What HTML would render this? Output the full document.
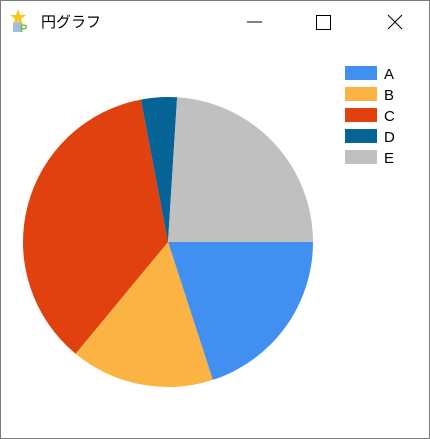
<!DOCTYPE html>
<html><head><meta charset="utf-8"><style>
body{margin:0;width:430px;height:439px;overflow:hidden;background:#fff;font-family:"Liberation Sans","Noto Sans CJK JP",sans-serif}
#win{position:absolute;left:0;top:0;width:428px;height:437px;border:1px solid #7a7a7a;background:#fff}
</style></head><body>
<div id="win">
<svg width="430" height="439" style="position:absolute;left:-1px;top:-1px">
 <g>
  <rect x="13" y="22" width="9" height="10" fill="#9dbfe6"/>
  <polygon points="18,9 20,15 26,15 21,19 23,25 18,21 13,25 15,19 10,15 16,15" fill="#f7c51b"/>
  <text x="20" y="32" font-size="11" font-weight="bold" fill="#6cbf3a">P</text>
 </g>
 <text x="41" y="27" font-size="15" fill="#000">円グラフ</text>
 <line x1="247" y1="22" x2="262" y2="22" stroke="#000"/>
 <rect x="316.5" y="15.5" width="14" height="14" fill="none" stroke="#000"/>
 <g stroke="#000"><line x1="388" y1="15" x2="402" y2="29"/><line x1="402" y1="15" x2="388" y2="29"/></g>
 <g id="pie"></g>
 <g id="legend"></g>
</svg>
</div>
<script>
const categories=["A","B","C","D","E"];
const values=[20,16,36,4,24];
const colors=["#418ff0","#fbb443","#e1410e","#056395","#c0c0c0"];
const cx=168,cy=242,r=145;
const pie=document.getElementById('pie'),leg=document.getElementById('legend');
const NS="http://www.w3.org/2000/svg";
const total=values.reduce((a,b)=>a+b,0);
let a0=0;
values.forEach((v,i)=>{
 const a1=a0+v/total*2*Math.PI;
 const p=document.createElementNS(NS,'path');
 const x0=cx+r*Math.cos(a0),y0=cy+r*Math.sin(a0),x1=cx+r*Math.cos(a1),y1=cy+r*Math.sin(a1);
 p.setAttribute('d',`M${cx},${cy}L${x0},${y0}A${r},${r} 0 ${a1-a0>Math.PI?1:0} 1 ${x1},${y1}Z`);
 p.setAttribute('fill',colors[i]);
 
 
 pie.appendChild(p);
 a0=a1;
 const y=66+i*21;
 const s=document.createElementNS(NS,'rect');
 s.setAttribute('x',345);s.setAttribute('y',y);s.setAttribute('width',32);s.setAttribute('height',14);s.setAttribute('fill',colors[i]);
 
 
 leg.appendChild(s);
 const t=document.createElementNS(NS,'text');
 t.setAttribute('x',384);t.setAttribute('y',y+13);t.setAttribute('font-size','15');t.textContent=categories[i];
 
 
 leg.appendChild(t);
});
</script>
</body></html>
